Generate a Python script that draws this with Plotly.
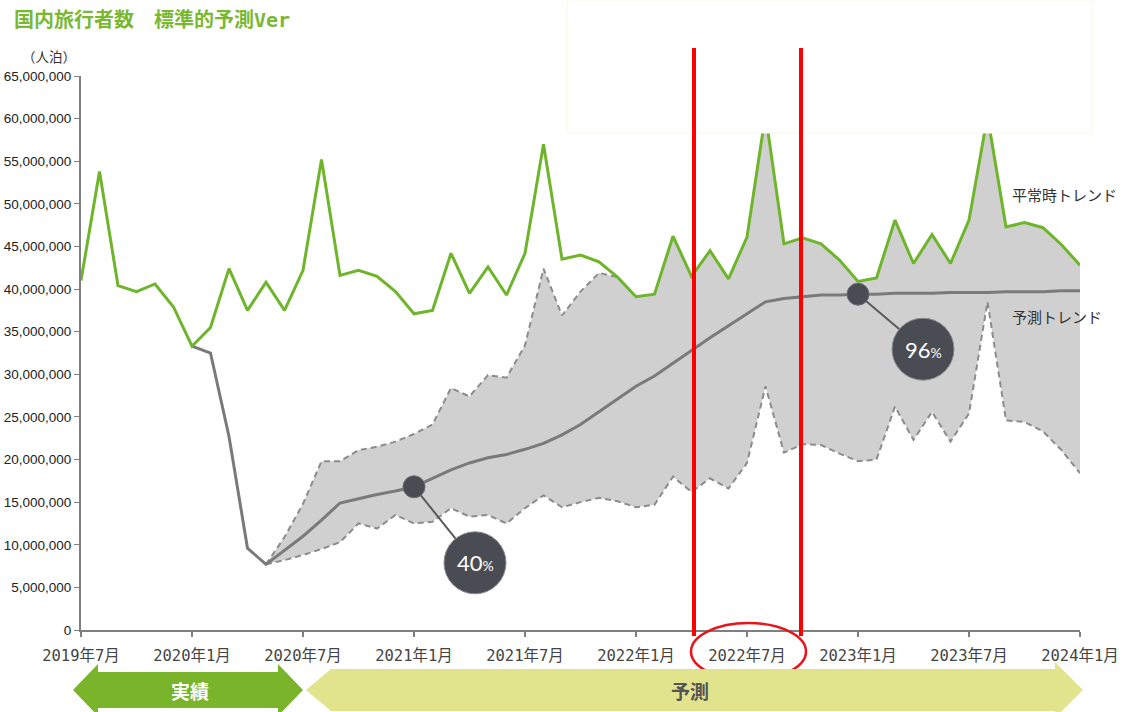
import plotly.graph_objects as go

# ---------------- data (values in persons-nights) ----------------
month_index = list(range(55))  # 0 = 2019年7月 ... 54 = 2024年1月
tick_index = [0, 6, 12, 18, 24, 30, 36, 42, 48, 54]
tick_labels = ["2019年7月", "2020年1月", "2020年7月", "2021年1月", "2021年7月",
               "2022年1月", "2022年7月", "2023年1月", "2023年7月", "2024年1月"]
y_ticks = [0, 5e6, 10e6, 15e6, 20e6, 25e6, 30e6, 35e6, 40e6, 45e6, 50e6, 55e6, 60e6, 65e6]

# 平常時トレンド (millions), idx 0..54
normal_trend_m = [41.0, 53.8, 40.4, 39.7, 40.6, 37.9, 33.3, 35.5, 42.4, 37.5,
                  40.8, 37.5, 42.2, 55.2, 41.6, 42.2, 41.5, 39.7, 37.1, 37.5,
                  44.2, 39.5, 42.6, 39.3, 44.2, 57.0, 43.5, 44.0, 43.2, 41.4,
                  39.1, 39.4, 46.2, 41.5, 44.5, 41.2, 46.1, 60.5, 45.3, 46.0,
                  45.3, 43.4, 40.9, 41.3, 48.1, 43.0, 46.4, 43.0, 48.1, 60.3,
                  47.3, 47.8, 47.2, 45.2, 42.8]

# 予測トレンド (millions), idx 6..54
forecast_start = 6
forecast_trend_m = [33.3, 32.5, 22.7, 9.6, 7.7, 9.3, 11.0, 12.9, 14.9, 15.4,
                    15.9, 16.3, 16.8, 17.8, 18.8, 19.6, 20.2, 20.6, 21.2, 21.9,
                    22.9, 24.1, 25.6, 27.1, 28.6, 29.8, 31.3, 32.9, 34.3, 35.7,
                    37.1, 38.5, 38.9, 39.1, 39.3, 39.3, 39.4, 39.4, 39.5, 39.5,
                    39.5, 39.6, 39.6, 39.6, 39.7, 39.7, 39.7, 39.8, 39.8]

# band (millions), starting idx 10
band_start = 10
band_upper_m = [7.7, 10.9, 14.8, 19.8, 19.8, 21.1, 21.5, 22.1, 23.0, 24.1,
                28.4, 27.4, 29.9, 29.6, 33.4, 42.4, 36.9, 39.7, 41.9, 41.4]  # idx10..29
band_lower_m = [7.7, 8.2, 8.8, 9.5, 10.3, 12.5, 11.9, 13.5, 12.5, 12.7,
                14.3, 13.3, 13.5, 12.5, 14.3, 15.8, 14.4, 15.0, 15.5, 15.1,
                14.4, 14.7, 18.0, 16.2, 17.8, 16.6, 19.6, 28.6, 20.8, 21.8,
                21.7, 20.7, 19.8, 20.0, 26.2, 22.3, 25.6, 22.1, 25.4, 38.5,
                24.6, 24.4, 23.3, 21.1, 18.4]  # idx10..54

bubble_points = [(18, "40"), (42, "96")]

M = 1e6
normal_trend = [v * M for v in normal_trend_m]
forecast_trend = [v * M for v in forecast_trend_m]
band_upper = [v * M for v in band_upper_m]
band_lower = [v * M for v in band_lower_m]

# ---------------- geometry helpers ----------------
W, H = 1124, 712
L, R, T, B = 81, 1080, 76, 630


def px(x):
    return (x - L) / (R - L)


def py(y):
    return (B - y) / (B - T)


GREEN = "#6fb52c"
GRAY_FILL = "#d0d0d0"
DASH_GRAY = "#8c8c8c"
TREND_GRAY = "#7a7a7a"
BUBBLE = "#4a4c54"

fig = go.Figure()

x_band = month_index[band_start:]
n_up = len(band_upper)
fill_upper = band_upper + normal_trend[band_start + n_up:]

fig.add_trace(go.Scatter(x=x_band, y=band_lower, mode="lines",
                         line=dict(width=0, color=GRAY_FILL), hoverinfo="skip"))
fig.add_trace(go.Scatter(x=x_band, y=fill_upper, mode="lines", fill="tonexty",
                         fillcolor=GRAY_FILL, line=dict(width=0, color=GRAY_FILL),
                         hoverinfo="skip"))
fig.add_trace(go.Scatter(x=x_band, y=band_lower, mode="lines",
                         line=dict(width=2, color=DASH_GRAY, dash="6px,4px"),
                         hoverinfo="skip"))
fig.add_trace(go.Scatter(x=month_index[band_start:band_start + n_up], y=band_upper,
                         mode="lines", line=dict(width=2, color=DASH_GRAY, dash="6px,4px"),
                         hoverinfo="skip"))
fig.add_trace(go.Scatter(x=month_index[forecast_start:], y=forecast_trend, mode="lines",
                         line=dict(width=3, color=TREND_GRAY), hoverinfo="skip"))
fig.add_trace(go.Scatter(x=month_index, y=normal_trend, mode="lines",
                         line=dict(width=3, color=GREEN), hoverinfo="skip"))

shapes = []
# white overlay box at top right (as in reference)
shapes.append(dict(type="rect", xref="paper", yref="paper",
                   x0=px(567), x1=px(1092), y0=py(133), y1=py(0),
                   fillcolor="white", line=dict(color="#fbf7e2", width=1), layer="above"))

# bubbles
offsets = {18: (61, -76), 42: (65, -55)}
for idx, label in bubble_points:
    yv = forecast_trend[idx - forecast_start]
    dx, dy = offsets[idx]
    shapes.append(dict(type="line", xref="x", yref="y", xsizemode="pixel", ysizemode="pixel",
                       xanchor=idx, yanchor=yv, x0=0, y0=0, x1=dx, y1=dy,
                       line=dict(color="#5a5a5a", width=2)))
    shapes.append(dict(type="circle", xref="x", yref="y", xsizemode="pixel", ysizemode="pixel",
                       xanchor=idx, yanchor=yv, x0=-11, x1=11, y0=-11, y1=11,
                       fillcolor=BUBBLE, line=dict(color="#6a6c72", width=1)))
    shapes.append(dict(type="circle", xref="x", yref="y", xsizemode="pixel", ysizemode="pixel",
                       xanchor=idx, yanchor=yv, x0=dx - 31, x1=dx + 31, y0=dy - 31, y1=dy + 31,
                       fillcolor=BUBBLE, line=dict(color="#8a8c90", width=1)))

# red highlight lines & ellipse
for xr in (694, 801):
    shapes.append(dict(type="line", xref="paper", yref="paper", x0=px(xr), x1=px(xr),
                       y0=py(48), y1=py(636), line=dict(color="#ff0000", width=4)))
shapes.append(dict(type="circle", xref="paper", yref="paper", x0=px(691), x1=px(806),
                   y0=py(680), y1=py(623), line=dict(color="#e8141b", width=2.5)))


def path(points):
    s = "M " + " L ".join(f"{px(a):.5f},{py(b):.5f}" for a, b in points) + " Z"
    return s


green_arrow = [(73, 690), (98, 664), (98, 672), (278, 672), (278, 664), (303, 690),
               (278, 716), (278, 708), (98, 708), (98, 716)]
yellow_arrow = [(306, 690), (331, 669), (1055, 669), (1055, 662), (1083, 690),
                (1055, 718), (1055, 711), (331, 711)]
shapes.append(dict(type="path", xref="paper", yref="paper", path=path(green_arrow),
                   fillcolor="#79b42b", line=dict(width=0)))
shapes.append(dict(type="path", xref="paper", yref="paper", path=path(yellow_arrow),
                   fillcolor="#e2e38d", line=dict(width=0)))

annotations = []
annotations.append(dict(xref="paper", yref="paper", x=px(12), y=py(18), xanchor="left",
                        yanchor="middle", showarrow=False,
                        text="<b>国内旅行者数　標準的予測</b><span style='font-family:DejaVu Sans Mono'><b>Ver</b></span>",
                        font=dict(family="Noto Sans CJK JP", size=20, color="#7ab832")))
annotations.append(dict(xref="paper", yref="paper", x=px(78), y=py(56), xanchor="right",
                        yanchor="middle", showarrow=False, text="（人泊）",
                        font=dict(family="Noto Sans CJK JP", size=13.5, color="#333333")))
annotations.append(dict(xref="paper", yref="paper", x=px(1010), y=py(194), xanchor="left",
                        yanchor="middle", showarrow=False, text="平常時トレンド",
                        font=dict(family="Noto Sans CJK JP", size=15, color="#333333")))
annotations.append(dict(xref="paper", yref="paper", x=px(1010), y=py(316), xanchor="left",
                        yanchor="middle", showarrow=False, text="予測トレンド",
                        font=dict(family="Noto Sans CJK JP", size=15, color="#333333")))
for idx, label in bubble_points:
    yv = forecast_trend[idx - forecast_start]
    dx, dy = offsets[idx]
    annotations.append(dict(xref="x", yref="y", x=idx, y=yv, xshift=dx, yshift=dy,
                            xanchor="center", yanchor="middle", showarrow=False,
                            text=f"{label}<span style='font-size:14px'>%</span>",
                            font=dict(family="Lato", size=22, color="white")))
annotations.append(dict(xref="paper", yref="paper", x=px(190), y=py(690), xanchor="center",
                        yanchor="middle", showarrow=False, text="<b>実績</b>",
                        font=dict(family="Noto Sans CJK JP", size=19, color="white")))
annotations.append(dict(xref="paper", yref="paper", x=px(690), y=py(690), xanchor="center",
                        yanchor="middle", showarrow=False, text="<b>予測</b>",
                        font=dict(family="Noto Sans CJK JP", size=19, color="#555555")))

fig.update_layout(
    width=W, height=H,
    margin=dict(l=L, r=W - R, t=T, b=H - B, pad=0, autoexpand=False),
    plot_bgcolor="white", paper_bgcolor="white",
    showlegend=False, hovermode=False,
    shapes=shapes, annotations=annotations,
    xaxis=dict(range=[0, 54], tickmode="array", tickvals=tick_index, ticktext=tick_labels,
               automargin=False,
               showgrid=False, zeroline=False, showline=True, linecolor="#7f7f7f", linewidth=2,
               ticks="outside", ticklen=5, tickwidth=2, tickcolor="#7f7f7f",
               tickfont=dict(family="DejaVu Sans Mono, Noto Sans CJK JP", size=15.5, color="#444444"),
               ticklabelstandoff=5),
    yaxis=dict(range=[0, 65e6], tickmode="array", tickvals=y_ticks, tickformat=",d",
               automargin=False,
               showgrid=False, zeroline=False, showline=True, linecolor="#7f7f7f", linewidth=2,
               ticks="outside", ticklen=5, tickwidth=1, tickcolor="#7f7f7f",
               tickfont=dict(family="Liberation Sans, Arial", size=13.5, color="#222222")),
)

fig.write_html("out.html", config={"displayModeBar": False},
               post_script="document.body.style.margin='0';")
